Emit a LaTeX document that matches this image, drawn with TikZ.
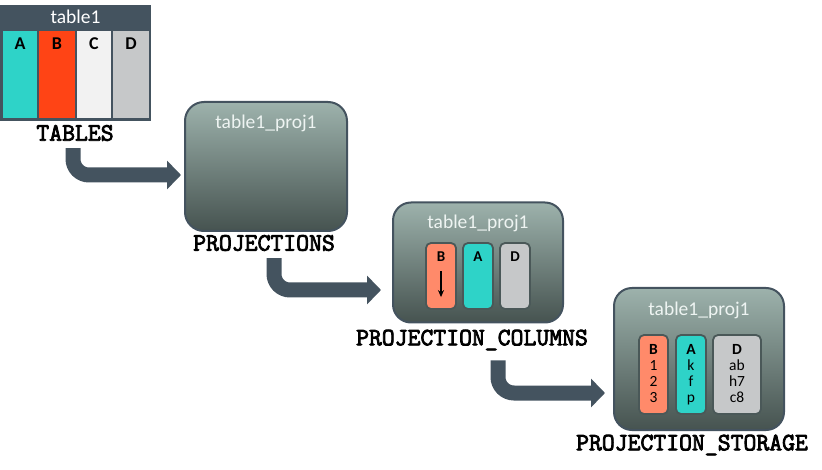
\documentclass[tikz,border=0pt]{standalone}
\usepackage{fontspec}
\setmainfont{Carlito}
\newfontfamily\labfont{Latin Modern Mono}[FakeBold=3.2]
\usetikzlibrary{arrows.meta}
\definecolor{slate}{HTML}{44535F}
\definecolor{tealc}{HTML}{2ED3C8}
\definecolor{redc}{HTML}{FF4415}
\definecolor{salmon}{HTML}{FF8A6A}
\definecolor{lightc}{HTML}{F2F2F2}
\definecolor{grayc}{HTML}{C6C8C9}
\definecolor{gtop}{HTML}{9DB2AC}
\definecolor{gbot}{HTML}{465350}
\definecolor{coledge}{HTML}{4A5858}
\definecolor{boxtext}{HTML}{EEF4F2}
\tikzset{
  tcol/.style={rectangle, inner sep=0pt, minimum width=34pt, minimum height=87pt},
  tletter/.style={anchor=center, inner sep=0pt, font=\fontsize{18}{18}\selectfont\bfseries},
  projbox/.style={rectangle, rounded corners=19pt, draw=slate, line width=2pt,
    top color=gtop, bottom color=gbot, inner sep=0pt},
  boxtitle/.style={inner sep=0pt, text=boxtext, font=\fontsize{19.5}{19.5}\selectfont},
  pcol/.style={rectangle, rounded corners=5pt, draw=coledge, line width=1.8pt, inner sep=0pt},
  pletter/.style={inner sep=0pt, font=\fontsize{15}{15}\selectfont\bfseries},
  stext/.style={inner sep=0pt, anchor=north, align=center, font=\fontsize{15.5}{16}\selectfont},
  biglabel/.style={inner sep=0pt, font=\fontsize{25}{25}\selectfont\labfont\bfseries},
  flow/.style={draw=slate, line width=15pt, rounded corners=16pt,
    -{Triangle[width=28pt,length=14pt]}, color=slate},
}
\begin{document}
\begin{tikzpicture}[x=1pt,y=-1pt]
\useasboundingbox (0,0) rectangle (822,470);

% ---------- table1 ----------
\node[rectangle, fill=slate, minimum width=151pt, minimum height=116pt, inner sep=0pt] (tbl) at (75.5,63) {};
\node[inner sep=0pt, text=white, font=\fontsize{19.5}{19.5}\selectfont] (tblname) at (75.5,17) {table1};
\node[tcol, fill=tealc] (tA) at (20,74.5) {};
\node[tcol, fill=redc, minimum width=36pt] (tB) at (57,74.5) {};
\node[tcol, fill=lightc] (tC) at (94,74.5) {};
\node[tcol, fill=grayc, minimum width=36pt] (tD) at (131,74.5) {};
\node[tletter] (lA) at (20,44) {A};
\node[tletter] (lB) at (57,44) {B};
\node[tletter] (lC) at (94,44) {C};
\node[tletter] (lD) at (131,44) {D};
\node[biglabel] (labT) at (75,133) {TABLES};

% ---------- projections ----------
\node[projbox, minimum width=162pt, minimum height=129pt] (b1) at (266,166.5) {};
\node[boxtitle] (b1t) at (266,123) {table1\_proj1};
\node[biglabel] (labP) at (264,243) {PROJECTIONS};

% ---------- projection columns ----------
\node[projbox, rounded corners=18pt, minimum width=170pt, minimum height=120pt] (b2) at (478,262.5) {};
\node[boxtitle] (b2t) at (478,223) {table1\_proj1};
\node[pcol, fill=salmon, minimum width=30pt, minimum height=66pt] (cB) at (441,276) {};
\node[pcol, fill=tealc, minimum width=30pt, minimum height=66pt] (cA) at (478,276) {};
\node[pcol, fill=grayc, minimum width=30pt, minimum height=66pt] (cD) at (515,276) {};
\node[pletter] (cBl) at (441,257) {B};
\node[pletter] (cAl) at (478,257) {A};
\node[pletter] (cDl) at (515,257) {D};
\draw[line width=1.5pt, -{Stealth[length=7pt,width=6pt]}] ([yshift=-29pt]cB.north) -- ([yshift=-55pt]cB.north);
\node[biglabel] (labC) at (472,340) {PROJECTION\_COLUMNS};

% ---------- projection storage ----------
\node[projbox, rounded corners=18pt, minimum width=170pt, minimum height=142pt] (b3) at (699,359) {};
\node[boxtitle] (b3t) at (699,310) {table1\_proj1};
\node[pcol, fill=salmon, minimum width=29pt, minimum height=79pt] (sB) at (653.5,374.5) {};
\node[pcol, fill=tealc, minimum width=30pt, minimum height=79pt] (sA) at (691,374.5) {};
\node[pcol, fill=grayc, minimum width=48pt, minimum height=79pt] (sD) at (737,374.5) {};
\node[stext] (sBt) at (653.5,344) {\textbf{B}\\1\\2\\3};
\node[stext] (sAt) at (691,344) {\textbf{A}\\k\\f\\p};
\node[stext] (sDt) at (737,344) {\textbf{D}\\ab\\h7\\c8};
\node[biglabel] (labS) at (692,445) {PROJECTION\_STORAGE};

% ---------- flow arrows ----------
\draw[flow, shorten >=3pt] ([xshift=-2pt,yshift=-7pt]labT.south) |- ([yshift=-8.5pt]b1.west);
\draw[flow, shorten >=11pt] ([xshift=10pt,yshift=-7pt]labP.south) |- ([yshift=-27.5pt]b2.west);
\draw[flow, shorten >=8pt] ([xshift=26pt,yshift=-10pt]labC.south) |- ([yshift=-34pt]b3.west);
\end{tikzpicture}
\end{document}
